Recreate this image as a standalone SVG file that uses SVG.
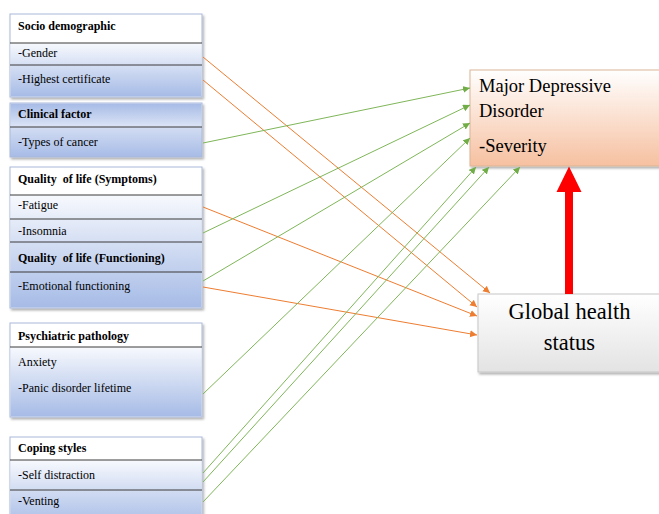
<svg xmlns="http://www.w3.org/2000/svg" width="659" height="514" viewBox="0 0 659 514">
<style>
.box{stroke:#a9b9d9;stroke-width:1}
.sep{stroke:#3a3a3a;stroke-width:1}
text{font-family:"Liberation Serif","Tinos","Times New Roman","Times","DejaVu Serif",serif;fill:#000}
.h{font-size:12px;font-weight:bold}
.t{font-size:12px}
.big{font-size:18.5px}
.gh{font-size:22.5px;text-anchor:middle}
.o{stroke:#ED7D31;stroke-width:1;fill:none;marker-end:url(#ao)}
.g{stroke:#7fb659;stroke-width:1;fill:none;marker-end:url(#ag)}
</style>
<defs>
<linearGradient id="blue" x1="0" y1="0" x2="0" y2="1">
<stop offset="0" stop-color="#f7f9fd"/>
<stop offset="1" stop-color="#a6bbe6"/>
</linearGradient>
<linearGradient id="blueR" x1="0" y1="0" x2="0" y2="1">
<stop offset="0" stop-color="#a6bbe6"/>
<stop offset="1" stop-color="#dde5f6"/>
</linearGradient>
<linearGradient id="peach" x1="0" y1="0" x2="0" y2="1">
<stop offset="0" stop-color="#ffffff"/>
<stop offset="1" stop-color="#f6c0a0"/>
</linearGradient>
<linearGradient id="gray" x1="0" y1="0" x2="0" y2="1">
<stop offset="0" stop-color="#ffffff"/>
<stop offset="1" stop-color="#e3e3e3"/>
</linearGradient>
<filter id="sh" x="-10%" y="-10%" width="130%" height="130%">
<feDropShadow dx="1.5" dy="2" stdDeviation="1.2" flood-color="#000" flood-opacity="0.3"/>
</filter>
<marker id="ao" markerUnits="userSpaceOnUse" markerWidth="8" markerHeight="8" refX="7" refY="3.5" orient="auto">
<path d="M0,0 L7,3.5 L0,7 z" fill="#ED7D31"/>
</marker>
<marker id="ag" markerUnits="userSpaceOnUse" markerWidth="8" markerHeight="8" refX="7" refY="3.5" orient="auto">
<path d="M0,0 L7,3.5 L0,7 z" fill="#70AD47"/>
</marker>
</defs>

<g id="socio">
<rect x="10" y="14" width="192" height="83" fill="#fff" class="box" filter="url(#sh)"/>
<rect x="10.5" y="43" width="191" height="53.5" fill="url(#blue)"/>
<line x1="10" y1="43" x2="202" y2="43" class="sep"/>
<line x1="10" y1="65" x2="202" y2="65" class="sep"/>
<text x="18" y="30" class="h">Socio demographic</text>
<text x="18" y="57" class="t">-Gender</text>
<text x="18" y="83" class="t">-Highest certificate</text>
</g>

<g id="clinical">
<rect x="10" y="103" width="192" height="54" fill="url(#blue)" class="box" filter="url(#sh)"/>
<rect x="10.5" y="103.5" width="191" height="23.5" fill="url(#blueR)"/>
<line x1="10" y1="127" x2="202" y2="127" class="sep"/>
<text x="18" y="118" class="h">Clinical factor</text>
<text x="18" y="146" class="t">-Types of cancer</text>
</g>

<g id="qol">
<rect x="10" y="167" width="192" height="141" fill="#fff" class="box" filter="url(#sh)"/>
<rect x="10.5" y="195" width="191" height="112.5" fill="url(#blue)"/>
<line x1="10" y1="195" x2="202" y2="195" class="sep"/>
<line x1="10" y1="219" x2="202" y2="219" class="sep"/>
<line x1="10" y1="242" x2="202" y2="242" class="sep"/>
<line x1="10" y1="272" x2="202" y2="272" class="sep"/>
<text x="18" y="183" class="h" xml:space="preserve">Quality  of life (Symptoms)</text>
<text x="18" y="209" class="t">-Fatigue</text>
<text x="18" y="235" class="t">-Insomnia</text>
<text x="18" y="262" class="h" xml:space="preserve">Quality  of life (Functioning)</text>
<text x="18" y="290" class="t">-Emotional functioning</text>
</g>

<g id="psych">
<rect x="10" y="323" width="192" height="94" fill="#fff" class="box" filter="url(#sh)"/>
<rect x="10.5" y="347" width="191" height="69.5" fill="url(#blue)"/>
<line x1="10" y1="347" x2="202" y2="347" class="sep"/>
<text x="18" y="340" class="h">Psychiatric pathology</text>
<text x="18" y="366" class="t">Anxiety</text>
<text x="18" y="392" class="t">-Panic disorder lifetime</text>
</g>

<g id="coping">
<rect x="10" y="437" width="192" height="90" fill="#fff" class="box" filter="url(#sh)"/>
<rect x="10.5" y="460" width="191" height="66" fill="url(#blue)"/>
<line x1="10" y1="460" x2="202" y2="460" class="sep"/>
<line x1="10" y1="490" x2="202" y2="490" class="sep"/>
<text x="18" y="452" class="h">Coping styles</text>
<text x="18" y="479" class="t">-Self distraction</text>
<text x="18" y="505" class="t">-Venting</text>
</g>

<g id="mdd">
<rect x="470" y="70" width="200" height="96" fill="url(#peach)" stroke="#d9b596" stroke-width="1" filter="url(#sh)"/>
<text x="479" y="92" class="big">Major Depressive</text>
<text x="479" y="117" class="big">Disorder</text>
<text x="479" y="152" class="big">-Severity</text>
</g>

<g id="global">
<rect x="478" y="294" width="192" height="78" fill="url(#gray)" stroke="#c6c6c6" stroke-width="1" filter="url(#sh)"/>
<text x="569.5" y="319" class="gh">Global health</text>
<text x="569.5" y="350" class="gh">status</text>
</g>

<g id="connectors">
<line x1="203" y1="57" x2="490" y2="293" class="o"/>
<line x1="203" y1="80" x2="477" y2="307" class="o"/>
<line x1="203" y1="207" x2="477" y2="316" class="o"/>
<line x1="203" y1="287" x2="477" y2="335" class="o"/>
<line x1="203" y1="143" x2="470" y2="88" class="g"/>
<line x1="203" y1="233" x2="470" y2="105" class="g"/>
<line x1="203" y1="281" x2="470" y2="123" class="g"/>
<line x1="203" y1="394" x2="470" y2="138" class="g"/>
<line x1="203" y1="473" x2="476" y2="167" class="g"/>
<line x1="203" y1="482" x2="489" y2="167" class="g"/>
<line x1="203" y1="502" x2="520" y2="167" class="g"/>
<path d="M565,294 L565,192 L556.5,192 L569,166.5 L581.5,192 L573,192 L573,294 z" fill="#FF0000"/>
</g>
</svg>
